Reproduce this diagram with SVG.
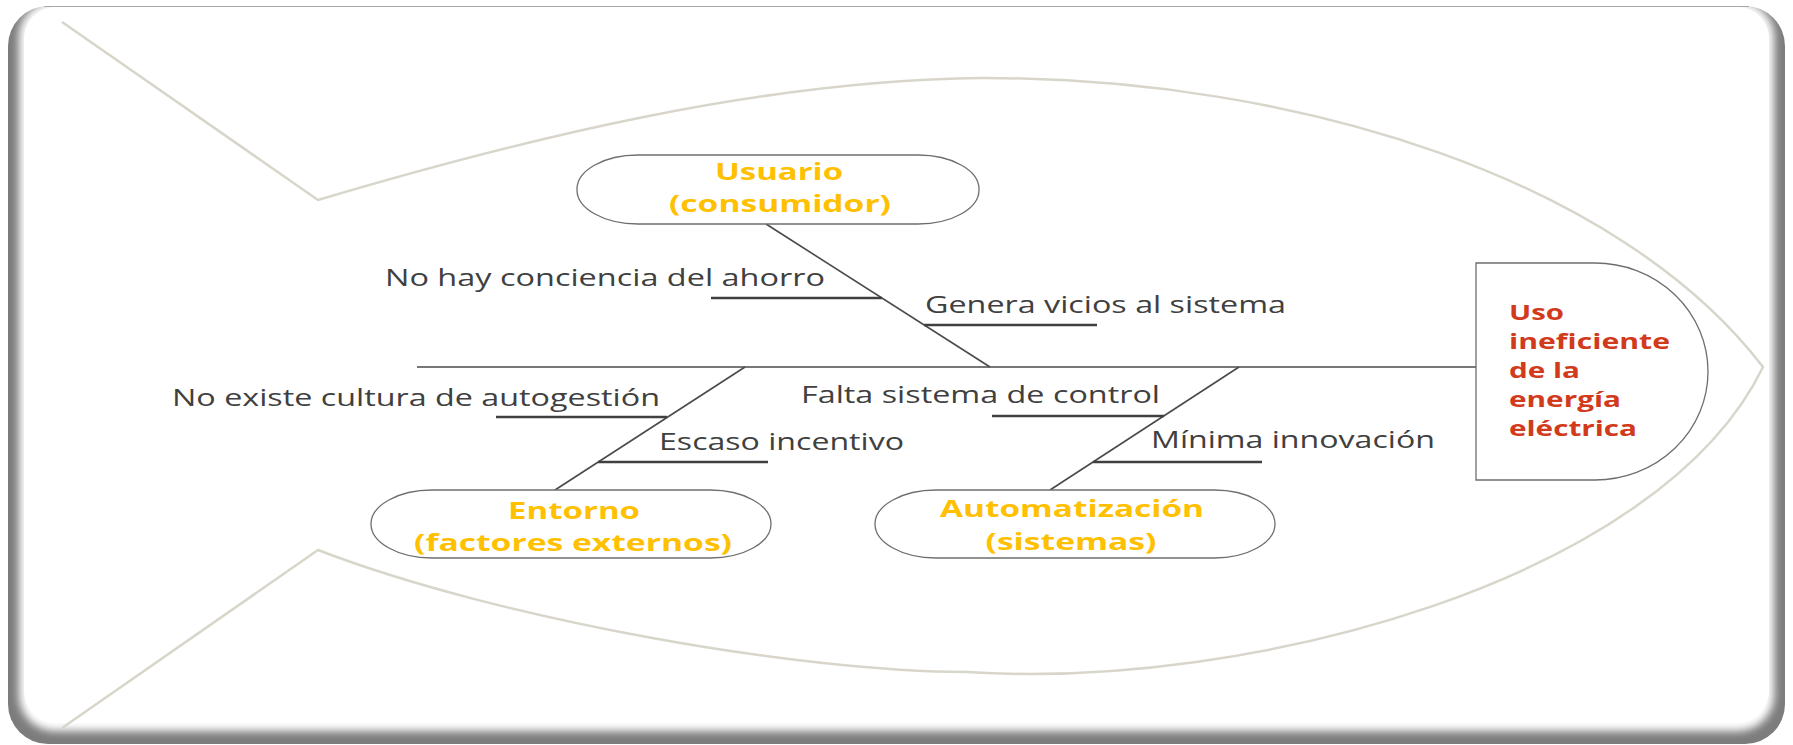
<svg xmlns="http://www.w3.org/2000/svg" width="1793" height="745" viewBox="0 0 1793 745">
<defs>
<filter id="soft" x="-5%" y="-5%" width="110%" height="110%"><feGaussianBlur stdDeviation="4"/></filter>
<style>
.fish{fill:none;stroke:#d8d6cb;stroke-width:2.5;stroke-linejoin:round}
.bone{stroke:#4a4a4a;stroke-width:1.6;fill:none}
.ul{stroke:#404040;stroke-width:2.4}
.box{fill:#fff;stroke:#6e6e6e;stroke-width:1.3}
.lbl{font-family:"Open Sans","Noto Sans",sans-serif;font-size:23px;fill:#404040}
.cat{font-family:"Open Sans","Noto Sans",sans-serif;font-size:23px;font-weight:bold;fill:#ffc000;text-anchor:middle}
.eff{font-family:"Open Sans","Noto Sans",sans-serif;font-size:22px;font-weight:bold;fill:#d23a1c}
</style>
</defs>
<rect width="1793" height="745" fill="#fff"/>
<g id="frame">
<rect x="8" y="6" width="1777" height="738" rx="40" fill="#7c7c7c"/>
<rect x="19" y="1" width="1755" height="730" rx="36" fill="#fff" filter="url(#soft)"/>
<rect x="24" y="7" width="1745" height="716" rx="32" fill="#fff"/>
<line x1="44" y1="6.5" x2="1749" y2="6.5" stroke="#a8a8a8" stroke-width="1.2"/>
</g>
<g id="fish">
<path class="fish" d="M62,22 L318,200 C520,140 760,80 983,78 C1300,78 1620,180 1763,367 C1660,580 1250,690 967,672 C800,672 500,620 318,550 L62,728"/>
</g>
<g id="connectors">
<line class="bone" x1="417" y1="367" x2="1476" y2="367"/>
<line class="bone" x1="766" y1="224" x2="990" y2="367"/>
<line class="bone" x1="745" y1="367" x2="555" y2="490"/>
<line class="bone" x1="1239" y1="367" x2="1050" y2="490"/>
<line class="ul" x1="711" y1="298" x2="882" y2="298"/>
<line class="ul" x1="924" y1="325" x2="1097" y2="325"/>
<line class="ul" x1="496" y1="417" x2="667" y2="417"/>
<line class="ul" x1="598" y1="462" x2="768" y2="462"/>
<line class="ul" x1="992" y1="416" x2="1164" y2="416"/>
<line class="ul" x1="1093" y1="462" x2="1262" y2="462"/>
</g>
<g id="labels">
<text class="lbl" x="385" y="286" textLength="440" lengthAdjust="spacingAndGlyphs">No hay conciencia del ahorro</text>
<text class="lbl" x="925" y="313" textLength="361" lengthAdjust="spacingAndGlyphs">Genera vicios al sistema</text>
<text class="lbl" x="172" y="406" textLength="488" lengthAdjust="spacingAndGlyphs">No existe cultura de autogestión</text>
<text class="lbl" x="659" y="450" textLength="245" lengthAdjust="spacingAndGlyphs">Escaso incentivo</text>
<text class="lbl" x="801" y="403" textLength="359" lengthAdjust="spacingAndGlyphs">Falta sistema de control</text>
<text class="lbl" x="1151" y="448" textLength="284" lengthAdjust="spacingAndGlyphs">Mínima innovación</text>
</g>
<g id="usuario">
<rect class="box" x="577" y="155" width="402" height="69" rx="61" ry="34"/>
<text class="cat" x="779" y="180" textLength="128" lengthAdjust="spacingAndGlyphs">Usuario</text>
<text class="cat" x="780" y="212" textLength="222" lengthAdjust="spacingAndGlyphs">(consumidor)</text>
</g>
<g id="entorno">
<rect class="box" x="371" y="490" width="400" height="68" rx="61" ry="34"/>
<text class="cat" x="574" y="519" textLength="132" lengthAdjust="spacingAndGlyphs">Entorno</text>
<text class="cat" x="573" y="551" textLength="318" lengthAdjust="spacingAndGlyphs">(factores externos)</text>
</g>
<g id="automatizacion">
<rect class="box" x="875" y="490" width="400" height="68" rx="61" ry="34"/>
<text class="cat" x="1072" y="517" textLength="264" lengthAdjust="spacingAndGlyphs">Automatización</text>
<text class="cat" x="1071" y="550" textLength="171" lengthAdjust="spacingAndGlyphs">(sistemas)</text>
</g>
<g id="efecto">
<path class="box" d="M1476,263 L1595,263 A113,108.5 0 0 1 1595,480 L1476,480 Z"/>
<text class="eff" x="1509" y="320" textLength="55" lengthAdjust="spacingAndGlyphs">Uso</text>
<text class="eff" x="1509" y="349" textLength="161" lengthAdjust="spacingAndGlyphs">ineficiente</text>
<text class="eff" x="1509" y="378" textLength="71" lengthAdjust="spacingAndGlyphs">de la</text>
<text class="eff" x="1509" y="407" textLength="112" lengthAdjust="spacingAndGlyphs">energía</text>
<text class="eff" x="1509" y="436" textLength="128" lengthAdjust="spacingAndGlyphs">eléctrica</text>
</g>
</svg>
